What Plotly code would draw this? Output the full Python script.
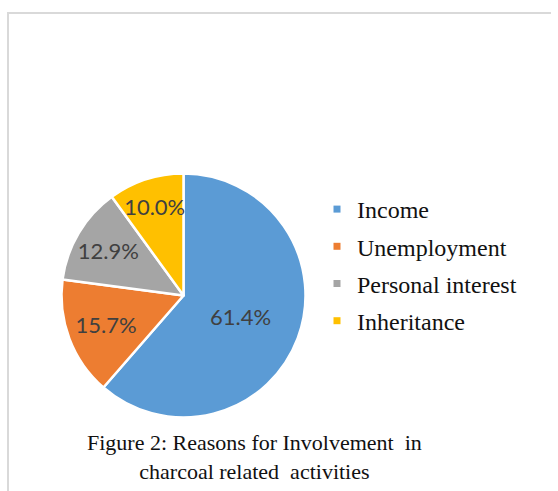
import plotly.graph_objects as go

labels = ["Income", "Unemployment", "Personal interest", "Inheritance"]
values = [61.4, 15.7, 12.9, 10.0]
colors = ["#5B9BD5", "#ED7D31", "#A5A5A5", "#FFC000"]
caption = "Figure 2: Reasons for Involvement  in<br>charcoal related  activities"

W, H = 558, 491

fig = go.Figure()
fig.add_trace(go.Pie(
    labels=labels, values=values, sort=False, direction="clockwise", rotation=0,
    marker=dict(colors=colors, line=dict(color="white", width=2.5)),
    texttemplate="%{value:.1f}%", textposition="inside",
    insidetextorientation="horizontal",
    textfont=dict(family="Lato", size=22, color="#404040"),
    domain=dict(x=[61.5 / W, 305.5 / W], y=[1 - 417.5 / H, 1 - 173.5 / H]),
    showlegend=False, hoverinfo="label+percent",
))

for i, (lab, col) in enumerate(zip(labels, colors)):
    fig.add_trace(go.Scatter(
        x=[None], y=[None], mode="markers", name=lab,
        marker=dict(symbol="square", size=7, color=col),
        legendgroup=f"g{i}", showlegend=True,
    ))

fig.update_layout(
    width=W, height=H, margin=dict(l=0, r=0, t=0, b=0),
    paper_bgcolor="white", plot_bgcolor="white",
    xaxis=dict(visible=False), yaxis=dict(visible=False),
    uniformtext=dict(minsize=22, mode="show"),
    legend=dict(
        x=317 / W, xanchor="left", y=1 - 187 / H, yanchor="top",
        font=dict(family="Liberation Serif", size=24, color="#111111"),
        tracegroupgap=3, bgcolor="rgba(0,0,0,0)", traceorder="grouped",
    ),
    shapes=[
        dict(type="line", xref="paper", yref="paper", x0=8 / W, x1=551 / W,
             y0=1 - 13 / H, y1=1 - 13 / H, line=dict(color="#D9D9D9", width=2)),
        dict(type="line", xref="paper", yref="paper", x0=8 / W, x1=8 / W,
             y0=1 - 12 / H, y1=0, line=dict(color="#D9D9D9", width=2)),
    ],
    annotations=[dict(
        text=caption, xref="paper", yref="paper", x=254 / W, y=1 - 456.5 / H,
        xanchor="center", yanchor="middle", showarrow=False, align="center",
        font=dict(family="Liberation Serif", size=22, color="#111111"),
    )],
)

fig.write_html("out.html")
